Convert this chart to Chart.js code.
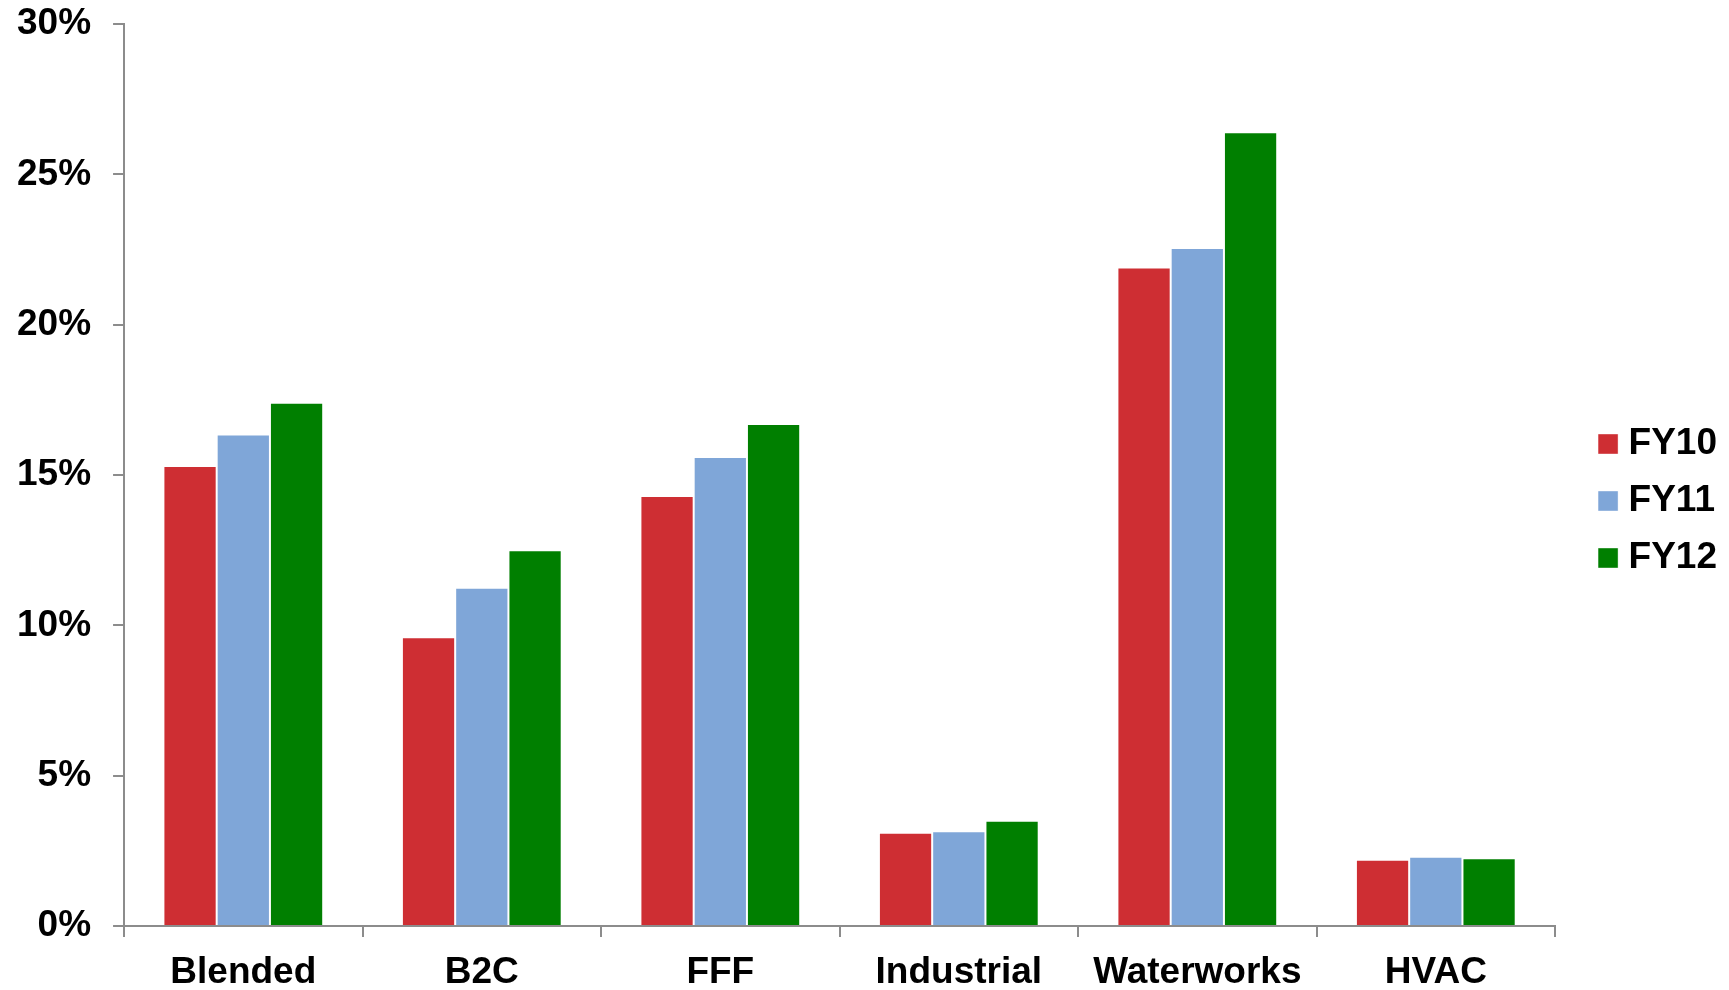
<!doctype html>
<html>

<head>
    <title>FY10-FY12</title>
    <script src="https://cdn.jsdelivr.net/npm/chart.js@4.4.1/dist/chart.umd.min.js"></script>
    <style>
    body {
        margin: 0;
        background: #fff;
    }
    </style>
</head>

<body>
    <canvas id="canvas" width="1729" height="990"></canvas>
    <script>
    var categories = ["Blended", "B2C", "FFF", "Industrial", "Waterworks", "HVAC"];
    var seriesNames = ["FY10", "FY11", "FY12"];
    var fy10 = [15.3, 9.6, 14.3, 3.1, 21.9, 2.2];
    var fy11 = [16.35, 11.25, 15.6, 3.15, 22.55, 2.3];
    var fy12 = [17.4, 12.5, 16.7, 3.5, 26.4, 2.25];
    var yTicks = [0, 5, 10, 15, 20, 25, 30];

    var colors = ['#ce2e33', '#7fa6d8', '#007f00'];
    var axisGray = '#8c8c8c';
    var fontBold = { family: '"Liberation Sans", Arial, sans-serif', size: 37, weight: 'bold' };

    var config = {
        type: 'bar',
        data: {
            labels: categories,
            datasets: [fy10, fy11, fy12].map(function(values, i) {
                return {
                    label: seriesNames[i],
                    data: values,
                    backgroundColor: colors[i],
                    borderColor: 'rgba(255,255,255,0.4)',
                    borderWidth: 1,
                    categoryPercentage: 0.67,
                    barPercentage: 1.0
                };
            })
        },
        options: {
            responsive: false,
            animation: false,
            layout: {
                padding: { left: -5, top: 0, right: 2, bottom: 0 }
            },
            plugins: {
                tooltip: { enabled: false },
                legend: {
                    position: 'right',
                    // blank title only nudges the legend block down
                    title: {
                        display: true,
                        text: ' ',
                        font: { size: 1, lineHeight: 1 },
                        padding: { top: 11, bottom: 0 }
                    },
                    labels: {
                        color: '#000',
                        font: fontBold,
                        usePointStyle: true,
                        pointStyle: 'rect',
                        boxWidth: 4,
                        boxHeight: 20,
                        padding: 20
                    }
                }
            },
            scales: {
                x: {
                    offset: true,
                    grid: {
                        offset: true,
                        drawOnChartArea: false,
                        drawTicks: true,
                        tickLength: 11,
                        color: axisGray,
                        lineWidth: 2
                    },
                    border: { color: axisGray, width: 2 },
                    ticks: {
                        color: '#000',
                        font: fontBold,
                        padding: 14,
                        maxRotation: 0
                    },
                    afterFit: function(axis) { axis.height = 64; }
                },
                y: {
                    min: 0,
                    max: 30,
                    afterBuildTicks: function(axis) {
                        axis.ticks = yTicks.map(function(v) { return { value: v }; });
                    },
                    afterFit: function(axis) {
                        axis.paddingTop = 24;
                        axis.paddingBottom = 0;
                    },
                    grid: {
                        drawOnChartArea: false,
                        drawTicks: true,
                        tickLength: 11,
                        color: axisGray,
                        lineWidth: 2
                    },
                    border: { color: axisGray, width: 2 },
                    ticks: {
                        color: '#000',
                        font: fontBold,
                        padding: 22,
                        callback: function(v) { return v + '%'; }
                    }
                },
                // empty spacer between plot and legend
                gap: {
                    type: 'linear',
                    position: 'right',
                    display: true,
                    grid: { display: false },
                    border: { display: false },
                    ticks: { display: false },
                    afterFit: function(axis) { axis.width = 31; }
                }
            }
        }
    };

    window.onload = function() {
        window.myBar = new Chart(document.getElementById("canvas"), config);
    };
    </script>
</body>

</html>
